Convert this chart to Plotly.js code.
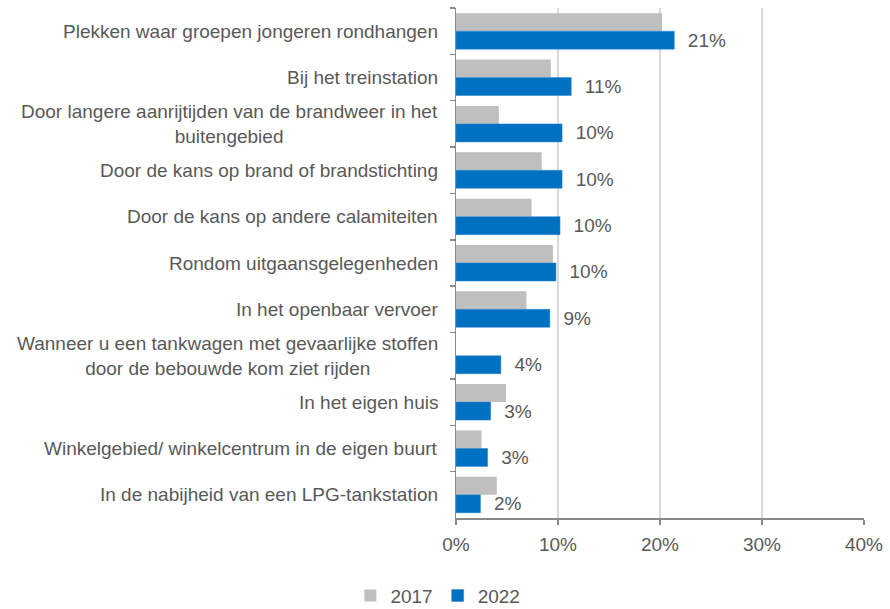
<!DOCTYPE html>
<html>
<head>
<meta charset="utf-8">
<script src="https://cdn.plot.ly/plotly-3.0.1.min.js"></script>
<style>html,body{margin:0;padding:0;background:#fff;}#chart{width:890px;height:609px;}</style>
</head>
<body>
<div id="chart"></div>
<script>
const categories = [
  "Plekken waar groepen jongeren rondhangen",
  "Bij het treinstation",
  "Door langere aanrijtijden van de brandweer in het<br>buitengebied",
  "Door de kans op brand of brandstichting",
  "Door de kans op andere calamiteiten",
  "Rondom uitgaansgelegenheden",
  "In het openbaar vervoer",
  "Wanneer u een tankwagen met gevaarlijke stoffen<br>door de bebouwde kom ziet rijden",
  "In het eigen huis",
  "Winkelgebied/ winkelcentrum in de eigen buurt",
  "In de nabijheid van een LPG-tankstation"
];
const values2017 = [20.2, 9.3, 4.2, 8.4, 7.4, 9.5, 6.9, null, 4.9, 2.5, 4.0];
const values2022 = [21.4, 11.3, 10.4, 10.4, 10.2, 9.8, 9.2, 4.4, 3.4, 3.1, 2.4];
const xTicks = [0, 10, 20, 30, 40];

const textColor = "#595959";
const fontFam = "Liberation Sans, Arial, sans-serif";

const traces = [
  {
    type: "bar", orientation: "h", name: "2017",
    y: categories, x: values2017,
    marker: {color: "#BFBFBF"},
    hoverinfo: "x+y"
  },
  {
    type: "bar", orientation: "h", name: "2022",
    y: categories, x: values2022,
    marker: {color: "#0070C0", line: {color: "#2E86D0", width: 0.5}},
    texttemplate: "\u00a0\u00a0%{x:.0f}%",
    textposition: "outside",
    constraintext: "none",
    cliponaxis: false,
    textfont: {family: fontFam, size: 19, color: textColor},
    hoverinfo: "x+y"
  }
];

const annotations = categories.map(c => ({
  text: c, x: 0, xref: "paper", y: c, yref: "y",
  xanchor: "right", yanchor: "middle", align: "center",
  xshift: -16, showarrow: false,
  font: {family: fontFam, size: 19, color: textColor}
}));

const layout = {
  width: 890, height: 609,
  margin: {l: 456, r: 26, t: 8, b: 91},
  paper_bgcolor: "#ffffff", plot_bgcolor: "#ffffff",
  font: {family: fontFam, size: 19, color: textColor},
  barmode: "group", bargap: 0.224, bargroupgap: 0,
  xaxis: {
    range: [0, 40], tickvals: xTicks, ticktext: xTicks.map(v => v + "%"),
    showgrid: true, gridcolor: "#D9D9D9", gridwidth: 1.5,
    zeroline: false, showline: true, linecolor: "#898989", linewidth: 1.5,
    ticks: "outside", ticklen: 5, tickcolor: "#898989", tickwidth: 1.5,
    ticklabelstandoff: 4,
    tickfont: {family: fontFam, size: 19, color: textColor},
    fixedrange: true
  },
  yaxis: {
    autorange: "reversed", type: "category",
    showticklabels: false, showgrid: false, zeroline: false,
    showline: true, linecolor: "#898989", linewidth: 1.5,
    ticks: "outside", tickson: "boundaries", ticklen: 5, tickcolor: "#898989", tickwidth: 1.5,
    fixedrange: true
  },
  showlegend: true,
  legend: {
    orientation: "h", xref: "container", yref: "container",
    x: 0.492, xanchor: "center", y: 0.022, yanchor: "middle",
    font: {family: fontFam, size: 19, color: textColor},
    itemwidth: 30, tracegroupgap: 0
  },
  annotations: annotations
};

Plotly.newPlot("chart", traces, layout, {displayModeBar: false, staticPlot: true});
</script>
</body>
</html>
